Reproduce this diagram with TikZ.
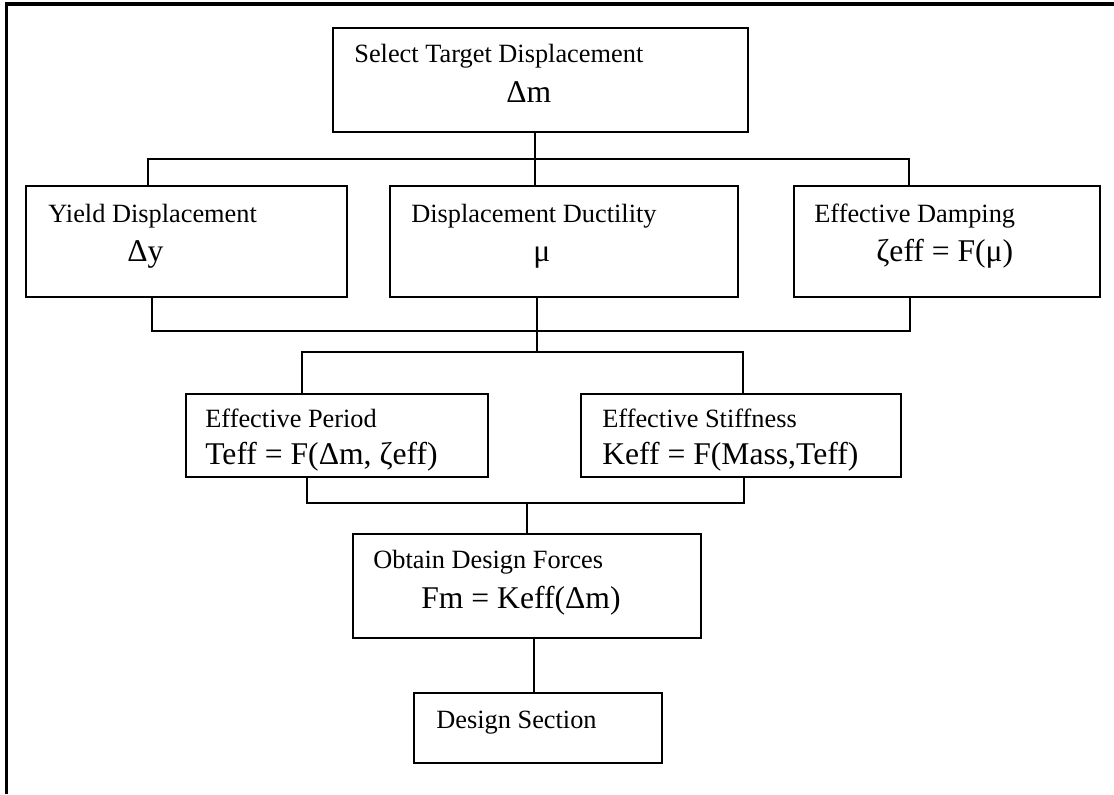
\documentclass[tikz,border=0pt]{standalone}
\usepackage{fontspec}
\setmainfont{Liberation Serif}
\usetikzlibrary{fit,calc}

\begin{document}
\begin{tikzpicture}[x=0.02cm, y=-0.02cm,
  box/.style={draw, line width=0.8pt, inner sep=0pt},
  lbl/.style={anchor=base west, inner sep=0pt, font=\fontsize{15}{18}\selectfont},
  frm/.style={anchor=base west, inner sep=0pt, font=\fontsize{18}{21}\selectfont},
  wire/.style={line width=0.8pt},
  frame/.style={line width=2.2pt}
]
  \useasboundingbox (0,0) rectangle (1114,794);
  % page frame (open at right and bottom)
  \draw[frame] (6.5,794) -- (6.5,3.7) -- (1114,3.7);

  % boxes
  \node[box, fit={(333,28) (748,132)}] (sel) {};
  \node[box, fit={(26,186) (347,297)}] (yld) {};
  \node[box, fit={(390,186) (738,297)}] (duc) {};
  \node[box, fit={(794,186) (1100,297)}] (dmp) {};
  \node[box, fit={(186,394) (488,477)}] (per) {};
  \node[box, fit={(581,394) (901,477)}] (stf) {};
  \node[box, fit={(353,534) (701,638)}] (obt) {};
  \node[box, fit={(414,693) (662,763)}] (dsn) {};

  % box texts
  \node[lbl] (selA) at (354,63) {Select Target Displacement};
  \node[frm] (selB) at (506,102) {Δm};
  \node[lbl] (yldA) at (48,222) {Yield Displacement};
  \node[frm] (yldB) at (127,261) {Δy};
  \node[lbl] (ducA) at (411,222) {Displacement Ductility};
  \node[frm] (ducB) at (533,261) {μ};
  \node[lbl] (dmpA) at (814,222) {Effective Damping};
  \node[frm] (dmpB) at (876,261) {ζeff = F(μ)};
  \node[lbl] (perA) at (205,427) {Effective Period};
  \node[frm] (perB) at (205,464) {Teff = F(Δm, ζeff)};
  \node[lbl] (stfA) at (602,427) {Effective Stiffness};
  \node[frm] (stfB) at (602,464) {Keff = F(Mass,Teff)};
  \node[lbl] (obtA) at (373,568) {Obtain Design Forces};
  \node[frm] (obtB) at (421,608) {Fm = Keff(Δm)};
  \node[lbl] (dsnA) at (436,728) {Design Section};

  % bus lines
  \coordinate (a0) at (535,159);
  \coordinate (a1) at (148,159);
  \coordinate (a2) at (909,159);
  \coordinate (b1) at (152,331);
  \coordinate (b2) at (910,331);
  \coordinate (c0) at (537,352);
  \coordinate (c1) at (302,352);
  \coordinate (c2) at (743,352);
  \coordinate (d0) at (527,503);
  \coordinate (d1) at (307,503);
  \coordinate (d2) at (744,503);
  \coordinate (e0) at (534,665);

  % connectors
  \draw[wire] (sel.south -| a0) -- (duc.north -| a0);
  \draw[wire] (yld.north -| a1) -- (a1) -- (a2) -- (dmp.north -| a2);
  \draw[wire] (yld.south -| b1) -- (b1) -- (b2) -- (dmp.south -| b2);
  \draw[wire] (duc.south -| c0) -- (c0);
  \draw[wire] (per.north -| c1) -- (c1) -- (c2) -- (stf.north -| c2);
  \draw[wire] (per.south -| d1) -- (d1) -- (d2) -- (stf.south -| d2);
  \draw[wire] (d0) -- (obt.north -| d0);
  \draw[wire] (obt.south -| e0) -- (dsn.north -| e0);
\end{tikzpicture}
\end{document}
